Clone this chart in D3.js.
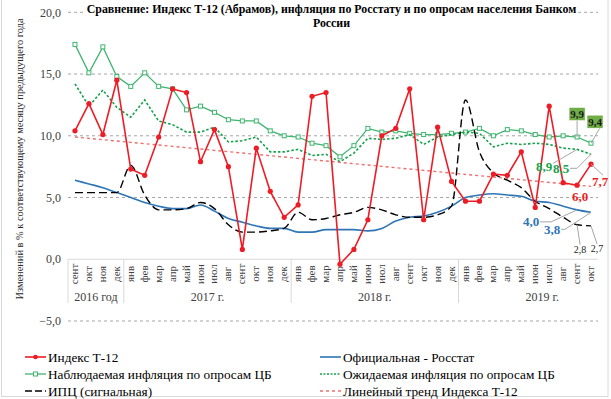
<!DOCTYPE html>
<html>
<head>
<meta charset="utf-8">
<script src="https://cdn.jsdelivr.net/npm/d3@7"></script>
<style>
  body { margin: 0; background: #fff; }
  svg { display: block; }
</style>
</head>
<body>
<svg id="chart" width="611" height="399" font-family="Liberation Serif"></svg>
<script>
// --- data ---
const months = ['сент','окт','ноя','дек',
  'янв','фев','мар','апр','май','июн','июл','авг','сент','окт','ноя','дек',
  'янв','фев','мар','апр','май','июн','июл','авг','сент','окт','ноя','дек',
  'янв','фев','мар','апр','май','июн','июл','авг','сент','окт'];
const years = ['2016 год', '2017 г.', '2018 г.', '2019 г.'];
const yearStart = [0, 4, 16, 28];          // first month index of each year
const yearLabelAt = [1.5, 9.5, 21.5, 33.5]; // where the year label sits (month index)

const t12      = [10.4, 12.6, 10.1, 14.5, 7.3, 6.8, 9.9, 13.8, 13.5, 7.9, 10.5, 7.5, 0.8, 9.0, 5.5, 3.4,
                  4.4, 13.2, 13.5, -0.4, 0.8, 3.2, 10.0, 10.6, 13.8, 3.2, 10.7, 6.3,
                  4.7, 4.7, 6.9, 6.8, 8.7, 4.2, 12.4, 6.2, 6.0, 7.7];
const observed = [17.4, 15.1, 17.2, 14.8, 14.0, 15.1, 14.0, 13.8, 12.1, 12.4, 11.9, 11.3, 11.2, 11.2, 10.4, 10.0,
                  9.9, 9.4, 9.2, 8.3, 9.2, 10.6, 10.3, 10.4, 10.2, 10.1, 10.1, 10.2,
                  10.3, 10.6, 10.0, 10.5, 10.4, 10.1, 9.9, 10.0, 9.9, 9.4];
const expected = [14.2, 12.4, 13.7, 12.3, 11.5, 12.9, 11.2, 10.9, 10.3, 10.3, 10.7, 9.5, 9.6, 9.9, 8.7, 8.7,
                  8.9, 8.4, 8.5, 7.9, 8.6, 9.8, 9.7, 9.8, 10.1, 9.3, 9.9, 10.1,
                  10.3, 10.2, 9.1, 9.4, 9.3, 9.4, 9.3, 9.0, 8.9, 8.5];
const rosstat  = [6.4, 6.1, 5.8, 5.4, 5.0, 4.6, 4.3, 4.1, 4.1, 4.4, 3.9, 3.3, 3.0, 2.7, 2.5, 2.5,
                  2.2, 2.2, 2.4, 2.4, 2.4, 2.3, 2.5, 3.1, 3.4, 3.5, 3.8, 4.3,
                  5.0, 5.2, 5.3, 5.2, 5.1, 4.7, 4.6, 4.3, 4.0, 3.8];
const cpi      = [5.4, 5.4, 5.4, 5.4, 7.6, 5.2, 4.0, 4.0, 4.1, 4.6, 4.1, 2.8, 2.2, 2.2, 2.3, 2.5,
                  3.8, 3.2, 3.3, 3.6, 3.8, 4.2, 4.0, 3.6, 3.4, 3.4, 3.6, 4.3,
                  12.9, 8.7, 7.0, 6.4, 5.8, 4.7, 4.1, 3.4, 2.8, 2.7];
const trendEnds = [9.9, 5.9]; // linear trend of T-12 at first and last month
const yTicks = [-5, 0, 5, 10, 15, 20];

const C = {
  red: '#ee1c25', green: '#3fb56f', greenDot: '#12a24a', blue: '#2e75b6',
  black: '#000', trend: '#ef6f6f', grid: '#a6a6a6', axis: '#d9d9d9', text: '#404040'
};

const svg = d3.select('#chart');
const fmt = v => d3.format('.1f')(v).replace('.', ',');

const x = d3.scaleBand().domain(d3.range(months.length)).range([68, 598]);
const cx = i => x(i) + x.bandwidth() / 2;
const y = d3.scaleLinear().domain([-5, 20]).range([321, 12.3]);

// outer border
svg.append('rect').attr('x', 1.5).attr('y', -2).attr('width', 606.5).attr('height', 398.5)
  .attr('fill', 'none').attr('stroke', C.axis);

// gridlines
svg.append('g').selectAll('line').data(yTicks.filter(d => d !== 0)).join('line')
  .attr('x1', 68).attr('x2', 598).attr('y1', d => y(d)).attr('y2', d => y(d))
  .attr('stroke', C.grid).attr('stroke-width', 1).attr('stroke-dasharray', '3,3');
svg.append('line').attr('x1', 68).attr('x2', 598).attr('y1', y(0)).attr('y2', y(0))
  .attr('stroke', C.axis);

// y tick labels
svg.append('g').selectAll('text').data(yTicks).join('text')
  .attr('x', 61).attr('y', d => y(d)).attr('dy', '0.35em')
  .attr('text-anchor', 'end').attr('font-size', 12).attr('fill', C.text)
  .text(d => fmt(d));

// y title
svg.append('text')
  .attr('transform', 'translate(23,159) rotate(-90)')
  .attr('text-anchor', 'middle').attr('font-size', 10.4).attr('fill', '#262626')
  .text('Изменений в % к соответствующему месяцу предыдущего года');

// category axis: months, years, separators
svg.append('g').selectAll('text').data(months).join('text')
  .attr('transform', (d, i) => `translate(${cx(i) + 3},274) rotate(-90)`)
  .attr('text-anchor', 'middle').attr('font-size', 11).attr('fill', C.text)
  .text(d => d);
svg.append('g').selectAll('line').data(yearStart).join('line')
  .attr('x1', d => x(d)).attr('x2', d => x(d)).attr('y1', y(0)).attr('y2', 303)
  .attr('stroke', C.axis);
svg.append('g').selectAll('text').data(years).join('text')
  .attr('x', (d, i) => x(0) + x.step() * (yearLabelAt[i] + 0.5))
  .attr('y', 301).attr('text-anchor', 'middle').attr('font-size', 12).attr('fill', C.text)
  .text(d => d);

// series
const idx = d3.range(months.length);
const straight = d3.line().x(i => cx(i));
const smooth = d3.line().x(i => cx(i)).curve(d3.curveMonotoneX);

svg.append('path').attr('d', straight.y(i => y(observed[i]))(idx))
  .attr('fill', 'none').attr('stroke', C.green).attr('stroke-width', 1.3);
svg.append('g').selectAll('rect').data(idx).join('rect')
  .attr('x', i => cx(i) - 2).attr('y', i => y(observed[i]) - 2).attr('width', 4).attr('height', 4)
  .attr('fill', '#fff').attr('stroke', C.green).attr('stroke-width', 1);

svg.append('path').attr('d', straight.y(i => y(expected[i]))(idx))
  .attr('fill', 'none').attr('stroke', C.greenDot).attr('stroke-width', 1.6).attr('stroke-dasharray', '2.5,2');

svg.append('path').attr('d', smooth.y(i => y(rosstat[i]))(idx))
  .attr('fill', 'none').attr('stroke', C.blue).attr('stroke-width', 1.6);

svg.append('path').attr('d', smooth.y(i => y(cpi[i]))(idx))
  .attr('fill', 'none').attr('stroke', C.black).attr('stroke-width', 1.4).attr('stroke-dasharray', '8,4');

svg.append('line')
  .attr('x1', cx(0)).attr('y1', y(trendEnds[0]))
  .attr('x2', cx(months.length - 1)).attr('y2', y(trendEnds[1]))
  .attr('stroke', C.trend).attr('stroke-width', 1.4).attr('stroke-dasharray', '3,3');

svg.append('path').attr('d', straight.y(i => y(t12[i]))(idx))
  .attr('fill', 'none').attr('stroke', C.red).attr('stroke-width', 1.6);
svg.append('g').selectAll('circle').data(idx).join('circle')
  .attr('cx', i => cx(i)).attr('cy', i => y(t12[i])).attr('r', 2.6).attr('fill', C.red);

// data labels for the last two months
const last = months.length - 1, prev = last - 1;
const labels = [
  { i: prev, v: observed[prev], dx: 0, dy: -23, color: '#1a1a1a', box: true, size: 11, bold: true, lead: [[0, 6], [0, 0]] },
  { i: last, v: observed[last], dx: 4, dy: -21.5, color: '#1a1a1a', box: true, size: 11, bold: true, lead: [[5, 6], [0, 0]] },
  { i: prev, v: expected[prev], dx: -33, dy: 17, color: C.greenDot, size: 13, bold: true, lead: [[9, -3], [0, 0]] },
  { i: last, v: expected[last], dx: -30, dy: 14, color: C.greenDot, size: 13, bold: true, lead: [[9, 0], [16, 0], [0, 0]] },
  { i: last, v: t12[last], dx: 9, dy: 17, color: C.red, size: 13, bold: true, lead: [[3, -6], [0, 0]] },
  { i: prev, v: t12[prev], dx: 3, dy: 11, color: C.red, size: 13, bold: true },
  { i: prev, v: rosstat[prev], dx: -46, dy: 12, color: C.blue, size: 13, bold: true, lead: [[9, 0], [20, 0], [0, 0]] },
  { i: last, v: rosstat[last], dx: -39, dy: 17, color: C.blue, size: 13, bold: true, lead: [[9, 0], [13, 0], [0, 0]] },
  { i: prev, v: cpi[prev], dx: 3, dy: 25, color: '#262626', size: 10, lead: [[0, -5], [0, 0]] },
  { i: last, v: cpi[last], dx: 6, dy: 23, color: '#262626', size: 10, lead: [[0, -5], [0, 0]] }
];
const lg = svg.append('g');
labels.forEach(l => {
  const px = cx(l.i), py = y(l.v), tx = px + l.dx, ty = py + l.dy;
  if (l.lead) {
    const pts = l.lead.map((p, k) => k === l.lead.length - 1 ? [px, py] : [tx + p[0], ty + p[1]]);
    lg.append('path').attr('d', d3.line()(pts)).attr('fill', 'none')
      .attr('stroke', C.grid).attr('stroke-width', 1);
  }
  if (l.box) {
    lg.append('rect').attr('x', tx - 8).attr('y', ty - 6.5).attr('width', 16).attr('height', 13)
      .attr('fill', '#70ad47').attr('stroke', '#fff').attr('stroke-width', 0.5);
  }
  lg.append('text').attr('x', tx).attr('y', ty).attr('dy', '0.35em').attr('text-anchor', 'middle')
    .attr('font-size', l.size).attr('font-weight', l.bold ? 'bold' : 'normal').attr('fill', l.color)
    .text(fmt(l.v));
});

// title
const title = svg.append('g').attr('font-weight', 'bold').attr('font-size', 11.85).attr('fill', '#000');
const bg = title.append('rect').attr('fill', '#fff');
title.append('text').attr('x', 331.5).attr('y', 13).attr('text-anchor', 'middle')
  .text('Сравнение: Индекс Т-12 (Абрамов), инфляция по Росстату и по опросам населения Банком');
title.append('text').attr('x', 331.5).attr('y', 27).attr('text-anchor', 'middle').text('России');
const tb = title.node().getBBox();
bg.attr('x', tb.x - 2).attr('y', tb.y).attr('width', tb.width + 4).attr('height', tb.height);

// legend
const legend = [
  { name: 'Индекс Т-12', col: 0, row: 0, color: C.red, w: 1.6, dash: null, mark: 'dot' },
  { name: 'Официальная - Росстат', col: 1, row: 0, color: C.blue, w: 1.6, dash: null },
  { name: 'Наблюдаемая инфляция по опросам ЦБ', col: 0, row: 1, color: C.green, w: 1.3, dash: null, mark: 'square' },
  { name: 'Ожидаемая инфляция по опросам ЦБ', col: 1, row: 1, color: C.greenDot, w: 1.6, dash: '2,1.5' },
  { name: 'ИПЦ (сигнальная)', col: 0, row: 2, color: C.black, w: 1.4, dash: '7,3' },
  { name: 'Линейный тренд Индекса Т-12', col: 1, row: 2, color: C.trend, w: 1.4, dash: '3,3' }
];
const lx = [25, 320], ly = [357, 374, 391];
const leg = svg.append('g').selectAll('g').data(legend).join('g')
  .attr('transform', d => `translate(${lx[d.col]},${ly[d.row]})`);
leg.append('line').attr('x1', 0).attr('x2', 21).attr('stroke', d => d.color)
  .attr('stroke-width', d => d.w).attr('stroke-dasharray', d => d.dash);
leg.filter(d => d.mark === 'dot').append('circle').attr('cx', 10.5).attr('r', 2.3).attr('fill', C.red);
leg.filter(d => d.mark === 'square').append('rect').attr('x', 8.5).attr('y', -2).attr('width', 4).attr('height', 4)
  .attr('fill', '#fff').attr('stroke', C.green);
leg.append('text').attr('x', 23).attr('dy', '0.35em').attr('font-size', 13.25).attr('fill', '#000')
  .text(d => d.name);
</script>
</body>
</html>
